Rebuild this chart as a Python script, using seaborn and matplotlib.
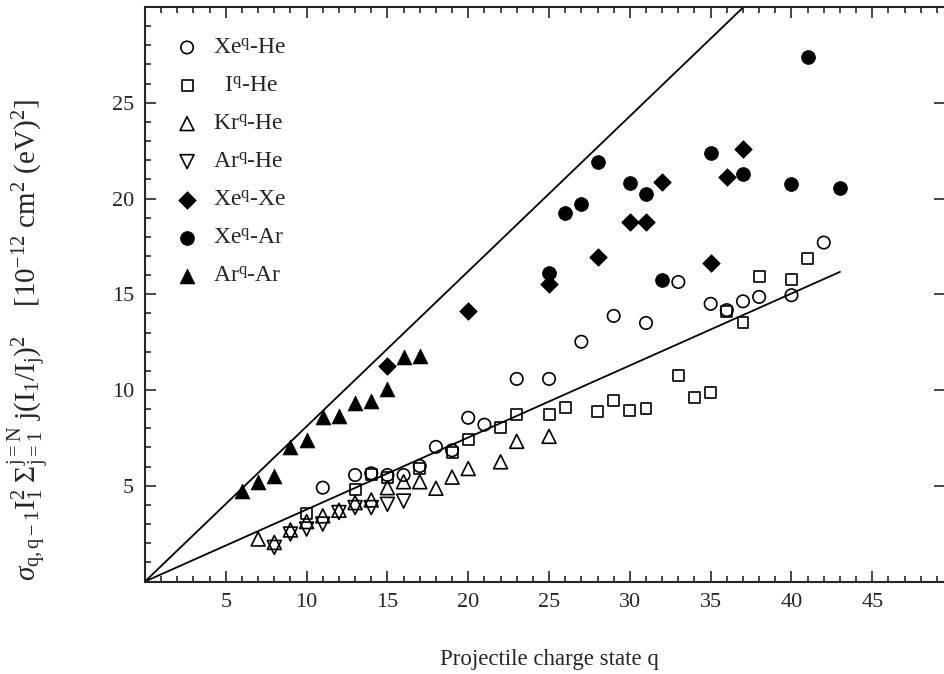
import numpy as np
import pandas as pd
import matplotlib
matplotlib.use('Agg')
import matplotlib.pyplot as plt
from matplotlib.ticker import MultipleLocator
import seaborn as sb

# values
xe_he_q = [11, 13, 14, 15, 16, 17, 18, 19, 20, 21, 23, 25, 27, 29, 31, 33, 35, 36, 37, 38, 40, 42]
xe_he_s = [4.9, 5.56, 5.65, 5.56, 5.56, 6.03, 7.03, 6.85, 8.55, 8.19, 10.58, 10.58, 12.52,
           13.87, 13.5, 15.64, 14.5, 14.17, 14.63, 14.86, 14.95, 17.7]

i_he_q = [10, 13, 14, 15, 17, 19, 20, 22, 23, 25, 26, 28, 29, 30, 31, 33, 34, 35, 36, 37, 38, 40, 41]
i_he_s = [3.55, 4.82, 5.6, 5.45, 5.9, 6.75, 7.41, 8.05, 8.71, 8.71, 9.11, 8.88, 9.45, 8.95,
          9.02, 10.74, 9.61, 9.87, 14.08, 13.52, 15.95, 15.76, 16.85]

kr_he_q = [7, 8, 9, 10, 11, 12, 13, 14, 15, 16, 17, 18, 19, 20, 22, 23, 25]
kr_he_s = [2.22, 2.04, 2.69, 3.13, 3.43, 3.72, 4.12, 4.26, 4.9, 5.21, 5.21, 4.87, 5.45, 5.9,
           6.25, 7.32, 7.58]

ar_he_q = [8, 9, 10, 11, 12, 13, 14, 15, 16]
ar_he_s = [1.78, 2.48, 2.74, 3.0, 3.6, 3.86, 3.86, 4.03, 4.2]

xe_xe_q = [15, 20, 25, 28, 30, 31, 32, 35, 36, 37]
xe_xe_s = [11.27, 14.1, 15.55, 16.94, 18.75, 18.75, 20.87, 16.65, 21.1, 22.56]

xe_ar_q = [25, 26, 27, 28, 30, 31, 32, 35, 37, 40, 41, 43]
xe_ar_s = [16.1, 19.24, 19.7, 21.92, 20.83, 20.22, 15.72, 22.39, 21.26, 20.74, 27.4, 20.54]

ar_ar_q = [6, 7, 8, 9, 10, 11, 12, 13, 14, 15, 16, 17]
ar_ar_s = [4.73, 5.21, 5.49, 7.0, 7.41, 8.57, 8.66, 9.3, 9.4, 10.06, 11.74, 11.8]

# the two straight lines through the origin
upper_slope = 0.81
lower_slope = 0.376
lower_end = 43

sb.set_style('ticks')
plt.rcParams['font.family'] = ['Liberation Serif', 'DejaVu Serif']
plt.rcParams['mathtext.fontset'] = 'custom'
plt.rcParams['mathtext.rm'] = 'Liberation Serif'
plt.rcParams['mathtext.it'] = 'Liberation Serif:italic'
plt.rcParams['mathtext.bf'] = 'Liberation Serif:bold'

fig = plt.figure(figsize=(9.45, 6.74), dpi=100)
ax = fig.add_axes([145 / 945, 92.5 / 674, 800 / 945, 574.5 / 674])

up_x = np.array([0, 49.5])
sb.lineplot(x=up_x, y=upper_slope * up_x, color='black', linewidth=1.3, ax=ax)
lo_x = np.array([0, lower_end])
sb.lineplot(x=lo_x, y=lower_slope * lo_x, color='black', linewidth=1.3, ax=ax)

open_kw = dict(color='black', facecolors='none', edgecolor='black', linewidth=1.2)
sb.scatterplot(x=xe_he_q, y=xe_he_s, marker='o', s=80, label='Xe$^{\\mathrm{q}}$-He', ax=ax, **open_kw)
sb.scatterplot(x=i_he_q, y=i_he_s, marker='s', s=62, label='  I$^{\\mathrm{q}}$-He', ax=ax, **open_kw)
sb.scatterplot(x=kr_he_q, y=kr_he_s, marker='^', s=100, label='Kr$^{\\mathrm{q}}$-He', ax=ax, **open_kw)
sb.scatterplot(x=ar_he_q, y=ar_he_s, marker='v', s=100, label='Ar$^{\\mathrm{q}}$-He', ax=ax, **open_kw)

fill_kw = dict(color='black', edgecolor='black', linewidth=0.5)
sb.scatterplot(x=xe_xe_q, y=xe_xe_s, marker='D', s=80, label='Xe$^{\\mathrm{q}}$-Xe', ax=ax, **fill_kw)
sb.scatterplot(x=xe_ar_q, y=xe_ar_s, marker='o', s=100, label='Xe$^{\\mathrm{q}}$-Ar', ax=ax, **fill_kw)
sb.scatterplot(x=ar_ar_q, y=ar_ar_s, marker='^', s=115, label='Ar$^{\\mathrm{q}}$-Ar', ax=ax, **fill_kw)

ax.set_xlim(0, 49.5)
ax.set_ylim(0, 30)
ax.set_xticks([5, 10, 15, 20, 25, 30, 35, 40, 45])
ax.set_yticks([5, 10, 15, 20, 25])
ax.xaxis.set_minor_locator(MultipleLocator(1))
ax.yaxis.set_minor_locator(MultipleLocator(1))
ax.tick_params(which='both', direction='in', top=True, right=True, labelsize=16, width=1.2)
ax.tick_params(which='major', length=8, pad=8)
ax.tick_params(which='minor', length=4)
ax.tick_params(axis='y', which='minor', right=False)
ax.spines['right'].set_visible(False)
for side in ['left', 'top', 'bottom']:
    ax.spines[side].set_linewidth(1.5)

ax.set_xlabel('Projectile charge state q', fontsize=16.5)
ax.xaxis.set_label_coords(0.506, -0.117)
ax.set_ylabel(r'$\sigma_{\mathrm{q,q-1}}\mathrm{I}_1^2\ \Sigma_{\mathrm{j=1}}^{\mathrm{j=N}}\ \mathrm{j(I_1/I_j)}^2$'
              r'    [10$^{-12}$ cm$^2$ (eV)$^2$]', fontsize=21)
ax.yaxis.set_label_coords(-0.118, 0.42)

leg = ax.legend(loc='upper left', frameon=False, fontsize=17, handlelength=1.0, handletextpad=0.6,
                labelspacing=0.7, borderaxespad=0.0, bbox_to_anchor=(0.026, 0.964))

plt.savefig('out.png', dpi=100)
